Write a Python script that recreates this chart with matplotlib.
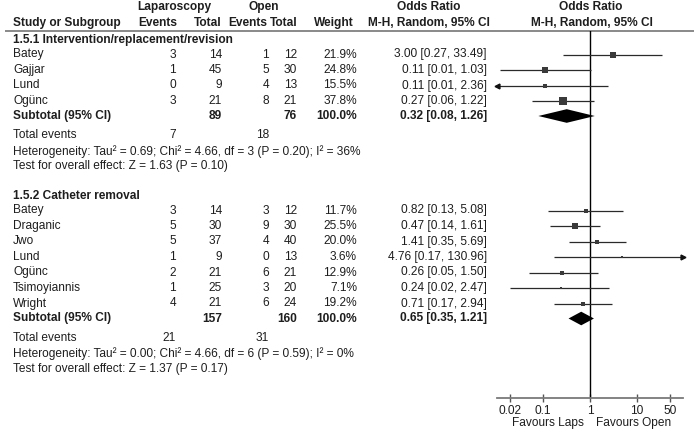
import matplotlib
matplotlib.use("Agg")
import matplotlib.pyplot as plt
import numpy as np

plt.rcParams['font.family'] = ['Liberation Sans', 'DejaVu Sans']

# ---------------- data ----------------
group1_title = "1.5.1 Intervention/replacement/revision"
studies1 = ["Batey", "Gajjar", "Lund", "Ogünc"]
lap_ev1 = [3, 1, 0, 3]
lap_tot1 = [14, 45, 9, 21]
open_ev1 = [1, 5, 4, 8]
open_tot1 = [12, 30, 13, 21]
weight1 = [21.9, 24.8, 15.5, 37.8]
or1 = [3.00, 0.11, 0.11, 0.27]
lo1 = [0.27, 0.012, 0.006, 0.06]
hi1 = [33.49, 1.03, 2.36, 1.22]
sub1 = (0.32, 0.08, 1.26)
sub1_tot = (89, 76)
sub1_events = (7, 18)
het1 = "Heterogeneity: Tau² = 0.69; Chi² = 4.66, df = 3 (P = 0.20); I² = 36%"
test1 = "Test for overall effect: Z = 1.63 (P = 0.10)"

group2_title = "1.5.2 Catheter removal"
studies2 = ["Batey", "Draganic", "Jwo", "Lund", "Ogünc", "Tsimoyiannis", "Wright"]
lap_ev2 = [3, 5, 5, 1, 2, 1, 4]
lap_tot2 = [14, 30, 37, 9, 21, 25, 21]
open_ev2 = [3, 9, 4, 0, 6, 3, 6]
open_tot2 = [12, 30, 40, 13, 21, 20, 24]
weight2 = [11.7, 25.5, 20.0, 3.6, 12.9, 7.1, 19.2]
or2 = [0.82, 0.47, 1.41, 4.76, 0.26, 0.24, 0.71]
lo2 = [0.13, 0.14, 0.35, 0.17, 0.05, 0.02, 0.17]
hi2 = [5.08, 1.61, 5.69, 130.96, 1.50, 2.47, 2.94]
sub2 = (0.65, 0.35, 1.21)
sub2_tot = (157, 160)
sub2_events = (21, 31)
het2 = "Heterogeneity: Tau² = 0.00; Chi² = 4.66, df = 6 (P = 0.59); I² = 0%"
test2 = "Test for overall effect: Z = 1.37 (P = 0.17)"

tick_vals = [0.02, 0.1, 1, 10, 50]
tick_labels = ["0.02", "0.1", "1", "10", "50"]

# ---------------- layout ----------------
W, H = 697, 433
fig = plt.figure(figsize=(W / 100, H / 100), dpi=100)
tab = fig.add_axes([0, 0, 1, 1])
tab.set_xlim(0, W)
tab.set_ylim(H, 0)
tab.axis('off')

FS = 8.6
TC = '#1e1e1e'
COL_LABEL = 13
COL_LEV, COL_LTOT, COL_OEV, COL_OTOT, COL_W, COL_OR = 176, 222, 269, 297, 357, 487
COL_ORC = 429

AX_L, AX_R, AX_TOP, AX_BOT = 497, 683, 31, 398
fax = fig.add_axes([AX_L / W, 1 - AX_BOT / H, (AX_R - AX_L) / W, (AX_BOT - AX_TOP) / H])
fax.patch.set_alpha(0)
fax.set_xscale('log')
fax.set_xlim(0.0106, 94)
fax.set_ylim(AX_BOT, AX_TOP)


def t(x, y, s, ha='left', bold=False):
    tab.text(x, y, s, ha=ha, va='center', fontsize=FS, color=TC,
             fontweight='bold' if bold else 'normal')


# headers
t(174, 7, "Laparoscopy", ha='center', bold=True)
t(264, 7, "Open", ha='center', bold=True)
t(COL_ORC, 7, "Odds Ratio", ha='center', bold=True)
t(591, 7, "Odds Ratio", ha='center', bold=True)
t(COL_LABEL, 23, "Study or Subgroup", bold=True)
t(177, 23, "Events", ha='right', bold=True)
t(222, 23, "Total", ha='right', bold=True)
t(267, 23, "Events", ha='right', bold=True)
t(297, 23, "Total", ha='right', bold=True)
t(354, 23, "Weight", ha='right', bold=True)
t(COL_ORC, 23, "M-H, Random, 95% CI", ha='center', bold=True)
t(592, 23, "M-H, Random, 95% CI", ha='center', bold=True)
tab.plot([5, 694], [31, 31], color='#808080', lw=1.3, solid_capstyle='butt')

xmin, xmax = fax.get_xlim()


def group(y0, title, studies, lev, ltot, oev, otot, w, orv, lo, hi, sub, subtot, subev, het, test):
    t(COL_LABEL, y0, title, bold=True)
    step = 15.5
    for i, name in enumerate(studies):
        y = y0 + 14.5 + i * step
        t(COL_LABEL, y, name)
        t(COL_LEV, y, str(lev[i]), ha='right')
        t(COL_LTOT, y, str(ltot[i]), ha='right')
        t(COL_OEV, y, str(oev[i]), ha='right')
        t(COL_OTOT, y, str(otot[i]), ha='right')
        t(COL_W, y, f"{w[i]:.1f}%", ha='right')
        t(COL_OR, y, f"{orv[i]:.2f} [{lo[i]:.2f}, {hi[i]:.2f}]", ha='right')
        a, b = max(lo[i], xmin), min(hi[i], xmax)
        fax.plot([a, b], [y, y], color='#2a2a2a', lw=0.9, solid_capstyle='butt', zorder=3)
        if lo[i] < xmin:
            fax.plot([xmin], [y], marker='<', ms=3.5, color='#111111', clip_on=False, zorder=4)
        if hi[i] > xmax:
            fax.plot([xmax], [y], marker='>', ms=3.5, color='#111111', clip_on=False, zorder=4)
        side_px = 1.5 + 0.16 * w[i]
        fax.plot([orv[i]], [y], marker='s', ms=side_px * 0.72, color='#3a3a3a', mew=0, zorder=5)
    ys = y0 + 14.5 + len(studies) * step - 0.5
    t(COL_LABEL, ys, "Subtotal (95% CI)", bold=True)
    t(COL_LTOT, ys, str(subtot[0]), ha='right', bold=True)
    t(COL_OTOT, ys, str(subtot[1]), ha='right', bold=True)
    t(COL_W, ys, "100.0%", ha='right', bold=True)
    t(COL_OR, ys, f"{sub[0]:.2f} [{sub[1]:.2f}, {sub[2]:.2f}]", ha='right', bold=True)
    hh = 6.8
    fax.fill([sub[1], sub[0], sub[2], sub[0]], [ys, ys - hh, ys, ys + hh],
             color='black', lw=0, zorder=5)
    ye = ys + 19.5
    t(COL_LABEL, ye, "Total events")
    t(COL_LEV, ye, str(subev[0]), ha='right')
    t(COL_OEV, ye, str(subev[1]), ha='right')
    t(COL_LABEL, ye + 16, het)
    t(COL_LABEL, ye + 31, test)


group(40, group1_title, studies1, lap_ev1, lap_tot1, open_ev1, open_tot1, weight1,
      or1, lo1, hi1, sub1, sub1_tot, sub1_events, het1, test1)
group(196, group2_title, studies2, lap_ev2, lap_tot2, open_ev2, open_tot2, weight2,
      or2, lo2, hi2, sub2, sub2_tot, sub2_events, het2, test2)

# forest axis styling
fax.axvline(1, color='black', lw=1, zorder=2)
for s in ['top', 'left', 'right']:
    fax.spines[s].set_visible(False)
fax.spines['bottom'].set_color('#7a7a7a')
fax.spines['bottom'].set_linewidth(1.3)
fax.set_yticks([])
fax.set_xticks(tick_vals)
fax.set_xticklabels(tick_labels)
fax.xaxis.set_minor_locator(matplotlib.ticker.NullLocator())
fax.tick_params(axis='x', direction='inout', length=6, width=1, color='#555555',
                labelsize=FS, labelcolor=TC, pad=2)
fax.text(0.75, 423, "Favours Laps", ha='right', va='center', fontsize=FS, color=TC, clip_on=False)
fax.text(1.35, 423, "Favours Open", ha='left', va='center', fontsize=FS, color=TC, clip_on=False)

fig.savefig("out.png", dpi=100)
